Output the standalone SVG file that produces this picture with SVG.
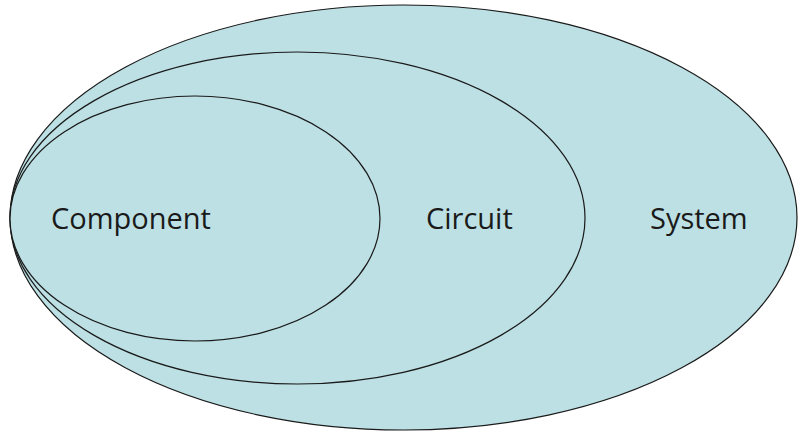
<svg xmlns="http://www.w3.org/2000/svg" width="800" height="438" viewBox="0 0 800 438">
<style>
.set{fill:#bde0e4;stroke:#1a1a1a;stroke-width:1.2}
.lbl{font-family:"Open Sans","Noto Sans",sans-serif;font-size:29px;fill:#1a1a1a}
</style>
<rect width="800" height="438" fill="#ffffff"/>
<g id="system">
<ellipse class="set" cx="403.5" cy="217.5" rx="393.5" ry="212.5"/>
<text class="lbl" x="650" y="229">System</text>
</g>
<g id="circuit">
<ellipse class="set" cx="297.5" cy="218" rx="287.5" ry="166"/>
<text class="lbl" x="426" y="229">Circuit</text>
</g>
<g id="component">
<ellipse class="set" cx="195" cy="218.5" rx="185" ry="122.5"/>
<text class="lbl" x="51" y="229">Component</text>
</g>
<g id="connectors"/>
</svg>
